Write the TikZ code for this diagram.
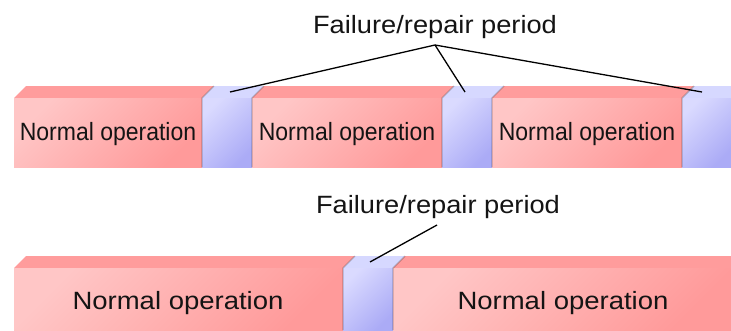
\documentclass[tikz,border=0pt]{standalone}
\usepackage{fontspec}
\setmainfont{Liberation Sans}
\definecolor{pinkL}{HTML}{FFC6C6}
\definecolor{pinkR}{HTML}{FF9A9A}
\definecolor{pinkTop}{HTML}{FF9C9C}
\definecolor{blueL}{HTML}{DADAFF}
\definecolor{blueR}{HTML}{ABABF6}
\definecolor{blueTop}{HTML}{D6D8FF}
\newcommand\fpbox[5]{% x1, x2, y front top, y bottom, kind (pink/blue)
  \fill[#5top] (#1,#3) -- (#1+12,#3-12) -- (#2+12,#3-12) -- (#2,#3) -- cycle;
  \shade[#5front] (#1,#3) rectangle (#2,#4);
}
\newcommand\fpedge[3]{% x, y top, y bottom
  \draw[edgeshadow] (#1,#3) -- (#1,#2) -- (#1+12,#2-12);
}
\tikzset{
  pinktop/.style={fill=pinkTop},
  bluetop/.style={fill=blueTop},
  pinkfront/.style={top color=pinkL, bottom color=pinkR, shading angle=45},
  bluefront/.style={top color=blueL, bottom color=blueR, shading angle=45},
  edgeshadow/.style={draw=black, opacity=0.22, line width=1.4pt},
  txt/.style={inner sep=0pt, font=\fontsize{25}{30}\selectfont, text=black!92},
  leader/.style={draw=black, line width=1.3pt},
}
\begin{document}
\begin{tikzpicture}[x=1pt,y=-1pt]
\useasboundingbox (0,0) rectangle (731,330);
% top row
\fpbox{14}{202}{98}{167}{pink}
\fpbox{202}{252}{98}{167}{blue}
\fpedge{202}{98}{167}
\fpbox{252}{442}{98}{167}{pink}
\fpedge{252}{98}{167}
\fpbox{442}{492}{98}{167}{blue}
\fpedge{442}{98}{167}
\fpbox{492}{682}{98}{167}{pink}
\fpedge{492}{98}{167}
\fpbox{682}{731}{98}{167}{blue}
\fpedge{682}{98}{167}
\node[txt] (n1) at (108,134) {\scalebox{0.92}[1]{Normal operation}};
\node[txt] (n2) at (347,134) {\scalebox{0.92}[1]{Normal operation}};
\node[txt] (n3) at (587,134) {\scalebox{0.92}[1]{Normal operation}};
% bottom row
\fpbox{14}{343}{268}{330}{pink}
\fpbox{343}{393}{268}{330}{blue}
\fpedge{343}{268}{330}
\fpbox{393}{731}{268}{330}{pink}
\fpedge{393}{268}{330}
\node[txt] (n4) at (178,303) {\scalebox{1.1}[1]{Normal operation}};
\node[txt] (n5) at (563,303) {\scalebox{1.1}[1]{Normal operation}};
% labels
\node[txt, anchor=base] (lab1) at (435,33) {\scalebox{1.09}[1]{Failure/repair period}};
\node[txt, anchor=base] (lab2) at (438,213) {\scalebox{1.09}[1]{Failure/repair period}};
\coordinate (j1) at (435,45);
\coordinate (f1) at (230,92);
\coordinate (f2) at (465,92);
\coordinate (f3) at (702,92);
\coordinate (j2) at (437,225);
\coordinate (f4) at (370,262);
\draw[leader] (f1) -- (j1) -- (f3);
\draw[leader] (j1) -- (f2);
\draw[leader] (j2) -- (f4);
\end{tikzpicture}
\end{document}
